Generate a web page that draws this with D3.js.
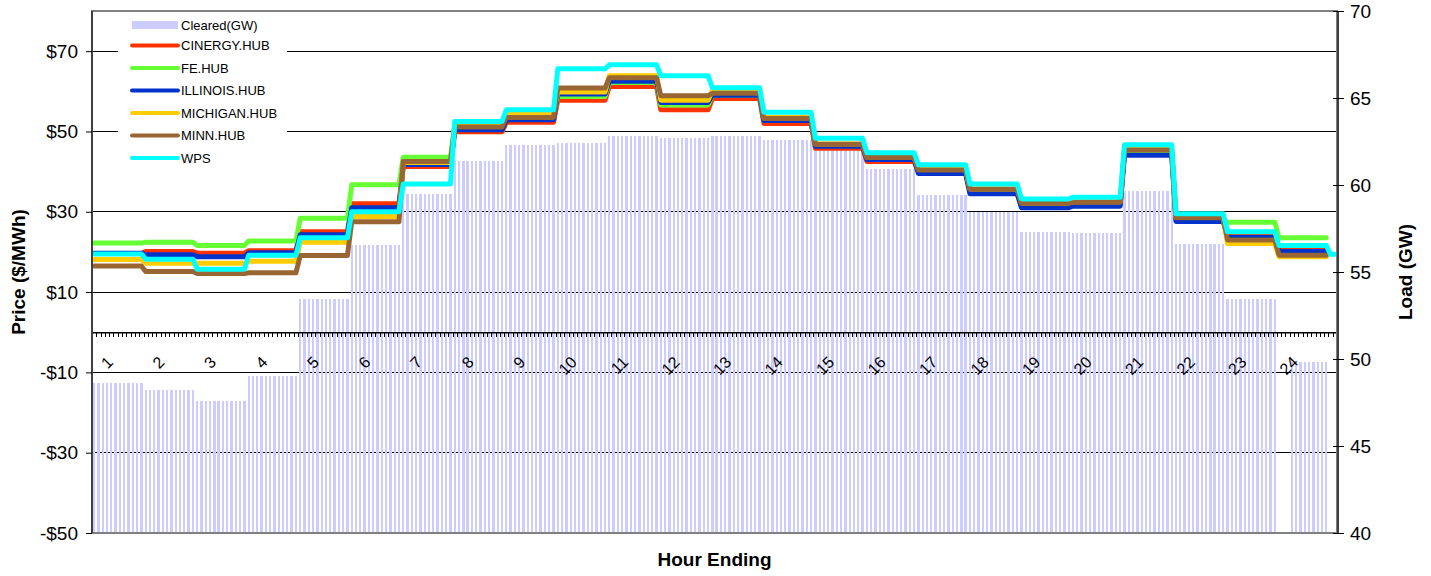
<!DOCTYPE html>
<html>
<head>
<meta charset="utf-8">
<script src="https://cdn.jsdelivr.net/npm/d3@7"></script>
<style>
  body { margin: 0; background: #fff; }
  svg { display: block; font-family: Arial, "Liberation Sans", sans-serif; }
</style>
</head>
<body>
<svg id="chart" width="1431" height="576"></svg>
<script>
// Hour-ending labels on the category axis
const hourLabels = d3.range(1, 25).map(String);

// Cleared load (GW), one value per hour, drawn on every 5-minute interval
const cleared = [48.6, 48.2, 47.6, 49.05, 53.45, 56.55, 59.48, 61.38, 62.3, 62.43, 62.8, 62.68,
                 62.8, 62.6, 62.0, 60.9, 59.43, 58.45, 57.32, 57.22, 59.66, 56.6, 53.43, 49.8];
// 5-minute intervals with no cleared value reported
const clearedMissing = [276, 277, 278];

// Hub prices ($/MWh), hourly
const cinergy  = [19.6, 20.1, 19.7, 20.3, 25.0, 32.0, 41.3, 49.9, 52.3, 57.8, 61.2, 55.4,
                  58.2, 52.0, 45.8, 42.5, 40.0, 35.0, 31.5, 31.9, 44.8, 28.0, 24.0, 20.7];
const fe       = [22.2, 22.4, 21.6, 22.7, 28.4, 36.7, 43.6, 51.7, 53.3, 58.7, 62.2, 56.6,
                  59.0, 52.8, 46.5, 43.2, 40.2, 35.3, 31.7, 32.1, 45.0, 28.2, 27.4, 23.5];
const illinois = [19.7, 19.3, 18.8, 19.8, 24.3, 31.0, 41.8, 50.4, 52.9, 59.3, 62.5, 57.2,
                  59.0, 52.7, 46.3, 43.0, 39.5, 34.5, 31.0, 31.4, 44.1, 27.6, 23.6, 20.1];
const michigan = [18.1, 17.2, 17.2, 17.7, 22.4, 28.8, 42.3, 51.6, 54.4, 59.8, 63.9, 57.8,
                  60.2, 53.5, 46.9, 43.6, 40.5, 35.7, 32.2, 32.5, 46.0, 28.6, 22.1, 18.8];
const minn     = [16.5, 15.1, 14.6, 14.8, 19.1, 27.5, 42.5, 51.1, 53.5, 60.8, 63.4, 58.9,
                  59.5, 53.2, 46.8, 43.5, 40.4, 35.6, 32.1, 32.4, 45.4, 28.5, 23.0, 19.2];
const wps      = [19.5, 18.2, 15.7, 19.2, 23.5, 30.0, 36.9, 52.5, 55.4, 65.6, 66.6, 63.9,
                  60.9, 54.8, 48.3, 44.7, 41.7, 36.9, 33.2, 33.6, 46.7, 29.5, 25.0, 21.6];
// WPS intervals reported past the last hour
const wpsTail = [19.4, 19.4];

const seriesNames  = ["CINERGY.HUB", "FE.HUB", "ILLINOIS.HUB", "MICHIGAN.HUB", "MINN.HUB", "WPS"];
const seriesColors = ["#ff3300", "#66ff33", "#0033cc", "#ffcc00", "#996633", "#00ffff"];
const seriesValues = [cinergy, fe, illinois, michigan, minn, wps];

const priceTicks = [-50, -30, -10, 10, 30, 50, 70];
const loadTicks  = [40, 45, 50, 55, 60, 65, 70];

const perHour = 12;
const intervalCount = 290;

// ---- layout ----
const plotL = 92, plotR = 1337, plotT = 11, plotB = 533;
const svg = d3.select("#chart");

const x  = d3.scaleLinear().domain([0, intervalCount]).range([plotL, plotR]);
const yP = d3.scaleLinear().domain([-50, 80]).range([plotB, plotT]);
const yL = d3.scaleLinear().domain([40, 70]).range([plotB, plotT]);
const slotW = x(1) - x(0);

// horizontal gridlines at the price ticks
svg.append("g").selectAll("line")
  .data(priceTicks.filter(d => d > -50))
  .join("line")
  .attr("x1", plotL).attr("x2", plotR)
  .attr("y1", d => yP(d)).attr("y2", d => yP(d))
  .attr("stroke", "#000").attr("stroke-width", 1)
  .attr("shape-rendering", "crispEdges");

// cleared load bars, one per 5-minute interval
const intervals = d3.range(hourLabels.length * perHour)
  .filter(i => !clearedMissing.includes(i))
  .map(i => ({ i, v: cleared[Math.floor(i / perHour)] }));
const barW = slotW * 0.54;
svg.append("g").selectAll("rect")
  .data(intervals)
  .join("rect")
  .attr("x", d => x(d.i) + (slotW - barW) / 2)
  .attr("width", barW)
  .attr("y", d => yL(d.v))
  .attr("height", d => yL(40) - yL(d.v))
  .attr("fill", "#ccccff")
  .attr("shape-rendering", "crispEdges");

// zero line of the price axis with a tick per interval
const y0 = yP(0);
const xAxis = svg.append("g")
  .attr("transform", `translate(0,${y0})`)
  .call(d3.axisBottom(x).tickValues(d3.range(0, intervalCount + 1)).tickSize(5).tickSizeOuter(0).tickFormat(""));
xAxis.select(".domain").attr("stroke", "#000").attr("stroke-width", 1.5);
xAxis.selectAll(".tick line").attr("stroke", "#000").attr("shape-rendering", "crispEdges");

// hour-ending labels, rotated
svg.append("g").selectAll("text")
  .data(hourLabels)
  .join("text")
  .attr("transform", (d, h) => `translate(${x(h * perHour + 4) + 1},${y0 + 27}) rotate(-45)`)
  .attr("text-anchor", "end")
  .attr("dominant-baseline", "central")
  .attr("font-size", 16)
  .attr("fill", "#000")
  .text(d => d);

// price lines, stepped per hour
const line = d3.line().x(d => x(d.i)).y(d => yP(d.v));
seriesValues.forEach((vals, k) => {
  const pts = vals.flatMap((v, h) => [{ i: h * perHour + 0.5, v }, { i: h * perHour + perHour - 0.5, v }]);
  if (seriesNames[k] === "WPS") {
    wpsTail.forEach((v, j) => pts.push({ i: vals.length * perHour + j + 0.5, v }));
  }
  svg.append("path")
    .datum(pts)
    .attr("d", line)
    .attr("fill", "none")
    .attr("stroke", seriesColors[k])
    .attr("stroke-width", 5)
    .attr("stroke-linejoin", "round")
    .attr("stroke-linecap", "round");
});

// plot frame
svg.append("rect")
  .attr("x", plotL).attr("y", plotT)
  .attr("width", plotR - plotL).attr("height", plotB - plotT)
  .attr("fill", "none").attr("stroke", "#808080").attr("stroke-width", 2);

// left (price) axis
const axL = svg.append("g")
  .attr("transform", `translate(${plotL},0)`)
  .call(d3.axisLeft(yP).tickValues(priceTicks).tickSize(6).tickPadding(8)
    .tickFormat(d => (d < 0 ? "-$" : "$") + Math.abs(d)));
axL.select(".domain").attr("stroke", "#404040").attr("stroke-width", 2).attr("d", `M0,${plotT}V${plotB}`);
axL.selectAll(".tick line").attr("stroke", "#000");
axL.selectAll(".tick text").attr("font-size", 19).attr("font-family", "Arial, 'Liberation Sans', sans-serif").attr("fill", "#000");

// right (load) axis
const axR = svg.append("g")
  .attr("transform", `translate(${plotR + 1},0)`)
  .call(d3.axisRight(yL).tickValues(loadTicks).tickSize(6).tickPadding(6));
axR.select(".domain").attr("stroke", "#404040").attr("stroke-width", 2).attr("d", `M0,${plotT}V${plotB}`);
axR.selectAll(".tick line").attr("stroke", "#000").attr("x1", -5);
axR.selectAll(".tick text").attr("font-size", 19).attr("font-family", "Arial, 'Liberation Sans', sans-serif").attr("fill", "#000");

// axis titles
svg.append("text")
  .attr("transform", `translate(18,${(plotT + plotB) / 2}) rotate(-90)`)
  .attr("text-anchor", "middle").attr("dominant-baseline", "central")
  .attr("font-size", 19).attr("font-weight", "bold")
  .text("Price ($/MWh)");
svg.append("text")
  .attr("transform", `translate(1405,${(plotT + plotB) / 2}) rotate(-90)`)
  .attr("text-anchor", "middle").attr("dominant-baseline", "central")
  .attr("font-size", 19).attr("font-weight", "bold")
  .text("Load (GW)");
svg.append("text")
  .attr("x", (plotL + plotR) / 2).attr("y", 559)
  .attr("text-anchor", "middle").attr("dominant-baseline", "central")
  .attr("font-size", 19).attr("font-weight", "bold")
  .text("Hour Ending");

// legend
const lg = svg.append("g");
lg.append("rect").attr("x", 118).attr("y", 12).attr("width", 169).attr("height", 160).attr("fill", "#fff");
const legendItems = [{ name: "Cleared(GW)", color: "#ccccff", bar: true }]
  .concat(seriesNames.map((n, k) => ({ name: n, color: seriesColors[k], bar: false })));
const rowY = k => k === 0 ? 25 : 45.5 + (k - 1) * 22.5;
legendItems.forEach((it, k) => {
  const cy = rowY(k);
  if (it.bar) {
    lg.append("rect").attr("x", 132).attr("y", cy - 4).attr("width", 46).attr("height", 8).attr("fill", it.color);
  } else {
    lg.append("line").attr("x1", 132).attr("x2", 178).attr("y1", cy).attr("y2", cy)
      .attr("stroke", it.color).attr("stroke-width", 4).attr("stroke-linecap", "round");
  }
  lg.append("text").attr("x", 181).attr("y", cy).attr("dominant-baseline", "central")
    .attr("font-size", 13).attr("fill", "#000").text(it.name);
});
</script>
</body>
</html>
